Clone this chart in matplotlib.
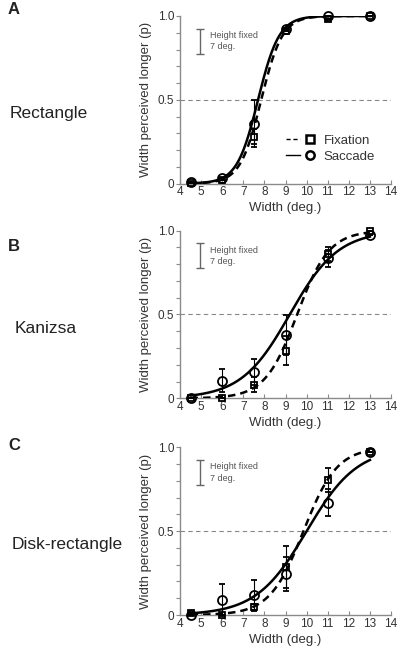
import numpy as np
import matplotlib
matplotlib.use("Agg")
import matplotlib.pyplot as plt
from matplotlib.lines import Line2D
from matplotlib.legend_handler import HandlerTuple

plt.rcParams["font.family"] = ["Liberation Sans", "DejaVu Sans"]

# stimulus widths (deg.)
widths = [4.5, 6, 7.5, 9, 11, 13]

panel_letters = ["A", "B", "C"]
panel_names = ["Rectangle", "Kanizsa", "Disk-rectangle"]

# proportion "width perceived longer"
fix_p = [
    [0.005, 0.02, 0.28, 0.91, 0.985, 1.0],
    [0.0, 0.0, 0.08, 0.285, 0.86, 1.0],
    [0.01, 0.0, 0.045, 0.288, 0.805, 0.97],
]
sac_p = [
    [0.01, 0.035, 0.357, 0.92, 1.0, 1.0],
    [0.0, 0.105, 0.157, 0.378, 0.835, 0.972],
    [0.0, 0.09, 0.12, 0.245, 0.67, 0.97],
]
fix_err = [
    [0, 0, 0.045, 0, 0, 0],
    [0, 0, 0.045, 0.085, 0.04, 0],
    [0, 0, 0.02, 0.125, 0.07, 0],
]
sac_err = [
    [0, 0, 0.14, 0, 0, 0],
    [0, 0.07, 0.08, 0.12, 0.05, 0],
    [0, 0.095, 0.09, 0.1, 0.08, 0],
]

# fitted psychometric functions (logistic): midpoint, spread
fix_mu = [7.85, 9.55, 9.85]
fix_s = [0.5, 0.76, 0.8]
sac_mu = [7.7, 9.2, 10.0]
sac_s = [0.5, 1.15, 1.2]

axis_gray = "#8a8a8a"
text_gray = "#333333"

fig = plt.figure(figsize=(4.04, 6.51), dpi=100)

# axes rectangles in pixels: top of y=1.0 and y=0 line
tops = [16.0, 230.7, 447.3]
bottoms = [183.5, 398.3, 615.0]
letter_y = [10, 247, 445]
name_x = [10, 15, 12]
left_px, right_px = 180.0, 391.0
W, H = 404.0, 651.0

xfit = np.linspace(4.5, 13, 300)

for i in range(3):
    ax = fig.add_axes([left_px / W, 1 - bottoms[i] / H,
                       (right_px - left_px) / W, (bottoms[i] - tops[i]) / H])

    ax.axhline(0.5, color="#888888", lw=0.8, ls=(0, (4, 3)), zorder=1)

    yf = 1 / (1 + np.exp(-(xfit - fix_mu[i]) / fix_s[i]))
    ys = 1 / (1 + np.exp(-(xfit - sac_mu[i]) / sac_s[i]))
    ax.plot(xfit, yf, color="black", lw=1.8, ls=(0, (3, 2)), zorder=3)
    ax.plot(xfit, ys, color="black", lw=1.8, zorder=3)

    ax.errorbar(widths, fix_p[i], yerr=fix_err[i], fmt="s", ms=4.5,
                mfc="none", mec="black", mew=1.3, ecolor="black",
                elinewidth=0.8, capsize=2, capthick=0.8, clip_on=False, zorder=4)
    ax.errorbar(widths, sac_p[i], yerr=sac_err[i], fmt="o", ms=6.5,
                mfc="none", mec="black", mew=1.3, ecolor="black",
                elinewidth=0.8, capsize=2, capthick=0.8, clip_on=False, zorder=4)

    # scale bar for fixed height
    ax.errorbar([4.95], [0.85], yerr=[0.075], fmt="none", ecolor="#666666",
                elinewidth=1.0, capsize=3, capthick=1.0)
    ax.text(5.4, 0.85, "Height fixed\n7 deg.", fontsize=6.5, color="#555555",
            va="center", ha="left", linespacing=1.3)

    ax.set_xlim(4, 14)
    ax.set_ylim(0, 1.0)
    ax.set_xticks(range(4, 15))
    ax.set_yticks([0, 0.5, 1.0])
    ax.set_yticklabels(["0", "0.5", "1.0"])
    ax.set_yticks(np.arange(0, 1.01, 0.1), minor=True)

    for side in ("top", "right"):
        ax.spines[side].set_visible(False)
    for side in ("left", "bottom"):
        ax.spines[side].set_color(axis_gray)
        ax.spines[side].set_linewidth(1.0)

    ax.tick_params(axis="x", direction="in", length=3, width=0.8, color=axis_gray,
                   labelsize=8.5, labelcolor=text_gray, pad=2)
    ax.tick_params(axis="y", which="both", direction="out", length=3, width=0.8,
                   color=axis_gray, labelsize=8.5, labelcolor=text_gray, pad=1)

    ax.set_xlabel("Width (deg.)", fontsize=9.5, color=text_gray, labelpad=3)
    ax.set_ylabel("Width perceived longer (p)", fontsize=9.5, color=text_gray,
                  labelpad=4)

    if i == 0:
        h_fix = (Line2D([], [], color="black", lw=1.0, ls=(0, (3, 2))),
                 Line2D([], [], ls="none", marker="s", ms=6, mfc="none",
                        mec="black", mew=1.8))
        h_sac = (Line2D([], [], color="black", lw=1.0),
                 Line2D([], [], ls="none", marker="o", ms=6, mfc="none",
                        mec="black", mew=1.8))
        ax.legend([h_fix, h_sac], ["Fixation", "Saccade"],
                  handler_map={tuple: HandlerTuple(ndivide=None, pad=0.2)},
                  loc="center left", bbox_to_anchor=(0.5, 0.208), frameon=False,
                  fontsize=9.5, handlelength=2.4, handletextpad=0.5,
                  labelspacing=0.25, borderpad=0, borderaxespad=0,
                  labelcolor=text_gray)

    fig.text(8 / W, 1 - letter_y[i] / H, panel_letters[i], fontsize=12,
             fontweight="bold", color="#222222", va="center", ha="left")
    fig.text(name_x[i] / W, 1 - (bottoms[i] - 70) / H, panel_names[i],
             fontsize=12.5, color="#222222", va="center", ha="left")

fig.savefig("out.png", dpi=100)
